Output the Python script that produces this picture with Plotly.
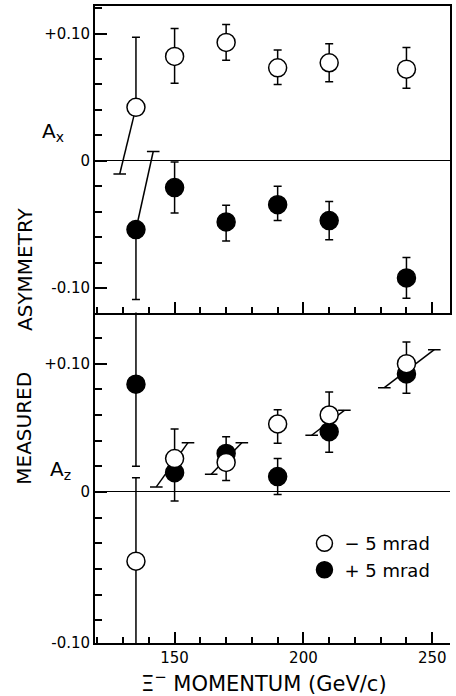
import plotly.graph_objects as go

# ---------------- data ----------------
momentum = [135, 150, 170, 190, 210, 240]          # Xi- momentum, GeV/c

# Top panel: A_x
ax_neg    = [0.042, 0.082, 0.093, 0.073, 0.077, 0.072]      # -5 mrad (open)
ax_neg_hi = [0.097, 0.104, 0.107, 0.087, 0.092, 0.089]      # upper end of error bar
ax_neg_lo = [None, 0.061, 0.079, 0.060, 0.062, 0.057]       # None -> drawn slanted
ax_pos    = [-0.054, -0.021, -0.048, -0.0345, -0.047, -0.092]  # +5 mrad (filled)
ax_pos_hi = [None, -0.001, -0.035, -0.020, -0.032, -0.076]
ax_pos_lo = [-0.109, -0.041, -0.063, -0.047, -0.062, -0.108]
# slanted (displaced) error-bar ends in the top panel
ax_neg_slant_end_x = [128.7]
ax_neg_slant_end_y = [-0.0104]
ax_pos_slant_end_x = [141.7]
ax_pos_slant_end_y = [0.0073]

# Bottom panel: A_z
az_neg    = [-0.054, 0.026, 0.023, 0.053, 0.060, 0.100]
az_neg_hi = [0.011, 0.049, 0.043, 0.064, 0.078, 0.117]
az_neg_lo = [-0.30, None, None, 0.038, None, None]          # -0.30: runs off scale
az_pos    = [0.084, 0.015, 0.030, 0.012, 0.047, 0.092]
az_pos_hi = [0.30, None, None, 0.026, None, None]           # 0.30: runs off scale
az_pos_lo = [0.020, -0.007, 0.009, -0.002, 0.031, 0.077]
# slanted error-bar segments in the bottom panel (lower-left end -> upper-right end)
az_slant_x0 = [142.9, 164.2, 203.2, 231.4]
az_slant_y0 = [0.0039, 0.0138, 0.0442, 0.0813]
az_slant_x1 = [155.2, 176.1, 215.9, 250.8]
az_slant_y1 = [0.0384, 0.0384, 0.0636, 0.1109]

y_ticktext_top = ["-0.10", "0", "+0.10"]
y_ticktext_bot = ["-0.10", "0", "+0.10"]
x_tickvals = [150, 200, 250]
legend_names = ["\u2212 5 mrad", "+ 5 mrad"]

# ---------------- styling ----------------
FONT = "DejaVu Sans"
LW = 1.5
AW = 1.8
MS = 18
XR = [119.1, 256.9]
YR_TOP = [-0.1192, 0.1216]
YR_BOT = [-0.1178, 0.1399]


def err(center, hi, lo):
    plus = [0 if h is None else h - c for c, h in zip(center, hi)]
    minus = [0 if l is None else c - l for c, l in zip(center, lo)]
    return plus, minus


fig = go.Figure()


def add_errbars(y, hi, lo, xa, ya):
    p, m = err(y, hi, lo)
    fig.add_trace(go.Scatter(
        x=momentum, y=y, mode="markers", marker=dict(size=1, opacity=0),
        error_y=dict(type="data", symmetric=False, array=p, arrayminus=m,
                     color="black", thickness=LW, width=4),
        xaxis=xa, yaxis=ya, showlegend=False, hoverinfo="skip"))


def add_segments(xs0, ys0, xs1, ys1, xa, ya):
    sx, sy = [], []
    for a, b, c, d in zip(xs0, ys0, xs1, ys1):
        sx += [a, c, None]
        sy += [b, d, None]
    fig.add_trace(go.Scatter(x=sx, y=sy, mode="lines",
                             line=dict(color="black", width=LW),
                             xaxis=xa, yaxis=ya, showlegend=False, hoverinfo="skip"))


def add_caps(xs, ys, xa, ya):
    fig.add_trace(go.Scatter(x=xs, y=ys, mode="markers",
                             marker=dict(symbol="line-ew", size=9,
                                         line=dict(color="black", width=LW)),
                             xaxis=xa, yaxis=ya, showlegend=False, hoverinfo="skip"))


# ---- top panel error bars ----
add_errbars(ax_pos, ax_pos_hi, ax_pos_lo, "x", "y")
add_errbars(ax_neg, ax_neg_hi, ax_neg_lo, "x", "y")
add_segments([momentum[0]], [ax_neg[0]], ax_neg_slant_end_x, ax_neg_slant_end_y, "x", "y")
add_segments([momentum[0]], [ax_pos[0]], ax_pos_slant_end_x, ax_pos_slant_end_y, "x", "y")
add_caps(ax_neg_slant_end_x + ax_pos_slant_end_x, ax_neg_slant_end_y + ax_pos_slant_end_y, "x", "y")

# ---- bottom panel error bars ----
add_errbars(az_pos, az_pos_hi, az_pos_lo, "x2", "y2")
add_errbars(az_neg, az_neg_hi, az_neg_lo, "x2", "y2")
add_segments(az_slant_x0, az_slant_y0, az_slant_x1, az_slant_y1, "x2", "y2")
add_caps(az_slant_x0 + az_slant_x1, az_slant_y0 + az_slant_y1, "x2", "y2")

# ---- markers (filled first, open on top) ----
filled = dict(size=MS, color="black", line=dict(color="black", width=LW))
opened = dict(size=MS, color="white", line=dict(color="black", width=LW))
fig.add_trace(go.Scatter(x=momentum, y=ax_pos, mode="markers", marker=filled,
                         xaxis="x", yaxis="y", showlegend=False))
fig.add_trace(go.Scatter(x=momentum, y=ax_neg, mode="markers", marker=opened,
                         xaxis="x", yaxis="y", showlegend=False))
fig.add_trace(go.Scatter(x=momentum, y=az_pos, mode="markers", marker=filled,
                         xaxis="x2", yaxis="y2", name=legend_names[1], legendrank=2))
fig.add_trace(go.Scatter(x=momentum, y=az_neg, mode="markers", marker=opened,
                         xaxis="x2", yaxis="y2", name=legend_names[0], legendrank=1))

# ---------------- axes ----------------
tickfont = dict(family=FONT, size=15, color="black")
split = 0.5188

xcommon = dict(range=XR, showline=True, linecolor="black", linewidth=AW,
               showgrid=False, zeroline=False, ticks="inside", ticklen=11,
               tickwidth=LW, tickcolor="black", tickmode="array", tickvals=x_tickvals,
               minor=dict(dtick=10, tick0=0, ticks="inside", ticklen=6,
                          tickwidth=LW, tickcolor="black", showgrid=False),
               tickfont=tickfont)

fig.update_layout(
    width=456, height=696,
    margin=dict(l=95, r=4, t=5, b=53),
    paper_bgcolor="white", plot_bgcolor="white",
    font=dict(family=FONT, color="black"),
    xaxis=dict(xcommon, anchor="y", mirror=True, showticklabels=False),
    yaxis=dict(domain=[split, 1], range=YR_TOP, anchor="x", mirror=True,
               showline=True, linecolor="black", linewidth=AW, showgrid=False,
               zeroline=True, zerolinecolor="black", zerolinewidth=1,
               tickmode="array", tickvals=[-0.1, 0, 0.1], ticktext=y_ticktext_top,
               ticks="inside", ticklen=12, tickwidth=LW, tickcolor="black",
               minor=dict(dtick=0.02, tick0=0, ticks="inside", ticklen=7,
                          tickwidth=LW, tickcolor="black", showgrid=False),
               tickfont=tickfont),
    xaxis2=dict(xcommon, anchor="y2"),
    yaxis2=dict(domain=[0, split], range=YR_BOT, anchor="x2",
                showline=True, linecolor="black", linewidth=AW, showgrid=False,
                zeroline=True, zerolinecolor="black", zerolinewidth=1,
                tickmode="array", tickvals=[YR_BOT[0], 0, 0.1], ticktext=y_ticktext_bot,
                ticks="inside", ticklen=12, tickwidth=LW, tickcolor="black",
                minor=dict(dtick=0.02, tick0=0, ticks="inside", ticklen=7,
                           tickwidth=LW, tickcolor="black", showgrid=False),
                tickfont=tickfont),
    legend=dict(x=0.59, y=0.185, xanchor="left", yanchor="top",
                font=dict(family=FONT, size=18, color="black"),
                bgcolor="rgba(0,0,0,0)", itemsizing="trace"),
    showlegend=True,
)

PW = 456 - 95 - 4
PH = 696 - 5 - 53


def px_x(p):
    return (p - 95) / PW


def px_y(p):
    return (643 - p) / PH


ann = dict(xref="paper", yref="paper", showarrow=False, xanchor="center", yanchor="middle",
           font=dict(family=FONT, size=20, color="black"))
fig.add_annotation(ann, x=px_x(24), y=px_y(268), text="ASYMMETRY", textangle=-90)
fig.add_annotation(ann, x=px_x(24), y=px_y(428), text="MEASURED", textangle=-90)
fig.add_annotation(ann, x=px_x(53), y=px_y(131), text="A<sub>x</sub>")
fig.add_annotation(ann, x=px_x(60), y=px_y(470), text="A<sub>z</sub>")
fig.add_annotation(ann, x=px_x(265), y=px_y(682), text="\u039e<sup>\u2212</sup> MOMENTUM (GeV/c)",
                   font=dict(family=FONT, size=21, color="black"))

fig.write_html("out.html", config={"displayModeBar": False},
               post_script="document.body.style.margin='0px';")
